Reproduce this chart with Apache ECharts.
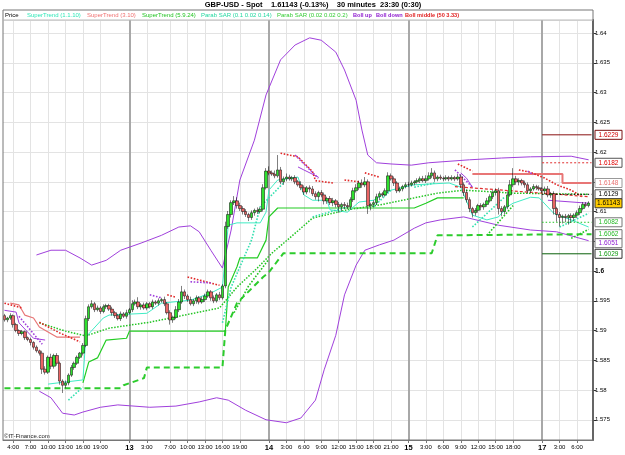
<!DOCTYPE html>
<html>
<head>
<meta charset="utf-8">
<title>GBP-USD 30 minutes</title>
<script src="https://cdn.jsdelivr.net/npm/echarts@6/dist/echarts.min.js"></script>
<style>html,body{margin:0;padding:0;background:#fff;}</style>
</head>
<body>
<div id="main" style="width:625px;height:455px;"></div>
<script type="text/javascript">
// sessions: day, first hour, number of 30 minute slots
var sessions = [['12', 2.5, 43], ['13', 0, 48], ['14', 0, 48], ['15', 0, 44], ['16', 23, 2], ['17', 0, 18]];

var firstOpen = 1.5925;
var closes = [
  // 12
  1.5918,1.5921,1.5925,1.5910,1.5900,1.5895,1.5898,1.5888,1.5885,1.5880,
  1.5872,1.5866,1.5862,1.5835,1.5830,1.5855,1.5840,1.5858,1.5845,1.5815,
  1.5808,1.5812,1.5825,1.5838,1.5845,1.5855,1.5862,1.5875,1.5920,1.5940,
  1.5945,1.5935,1.5938,1.5932,1.5940,1.5942,1.5936,1.5930,1.5925,1.5920,
  1.5928,1.5924,1.5930,
  // 13
  1.5935,1.5945,1.5948,1.5940,1.5943,1.5938,1.5945,1.5940,1.5948,1.5946,
  1.5950,1.5952,1.5945,1.5930,1.5918,1.5922,1.5935,1.5948,1.5965,1.5958,
  1.5952,1.5945,1.5950,1.5955,1.5948,1.5952,1.5958,1.5965,1.5955,1.5950,
  1.5960,1.5955,1.5975,1.6075,1.6095,1.6115,1.6118,1.6110,1.6105,1.6100,
  1.6095,1.6090,1.6098,1.6102,1.6100,1.6104,1.6140,1.6168,
  // 14
  1.6165,1.6163,1.6160,1.6170,1.6150,1.6155,1.6158,1.6155,1.6157,1.6150,
  1.6145,1.6140,1.6133,1.6140,1.6138,1.6130,1.6125,1.6132,1.6128,1.6118,
  1.6122,1.6115,1.6118,1.6112,1.6108,1.6112,1.6110,1.6108,1.6120,1.6135,
  1.6140,1.6148,1.6145,1.6150,1.6110,1.6112,1.6115,1.6125,1.6130,1.6128,
  1.6135,1.6160,1.6155,1.6148,1.6135,1.6138,1.6142,1.6145,
  // 15
  1.6145,1.6148,1.6150,1.6152,1.6155,1.6152,1.6155,1.6160,1.6165,1.6155,
  1.6158,1.6156,1.6155,1.6157,1.6155,1.6157,1.6155,1.6158,1.6145,1.6132,
  1.6120,1.6105,1.6098,1.6102,1.6110,1.6108,1.6112,1.6118,1.6125,1.6132,
  1.6135,1.6105,1.6100,1.6108,1.6128,1.6145,1.6155,1.6150,1.6152,1.6148,
  1.6145,1.6135,1.6138,1.6142,
  // 16
  1.6140,1.6138,
  // 17
  1.6135,1.6138,1.6128,1.6130,1.6105,1.6095,1.6090,1.6092,1.6090,1.6093,
  1.6090,1.6094,1.6098,1.6105,1.6112,1.6110,1.61143
];
// wick length beyond the body, in pips
var wickHi = [
  3,2,4,2,3,2,3,2,2,3, 2,3,2,4,5,3,6,3,4,3, 3,4,3,4,3,3,2,4,5,4, 6,3,4,3,4,3,3,4,3,3,
  4,3,5,3,6,4,8,3,4,3, 3,4,3,4,3,5,3,4,3,6, 5,10,4,3,5,3,4,3,5,4, 4,3,4,3,5,3,8,6,4,8,
  6,5,4,4,3,4,3,5,3,6, 5,8,4,6,25,5,4,6,4,3, 4,3,6,4,3,4,5,4,3,4, 4,3,4,5,3,4,3,4,5,4,
  5,6,4,6,8,4,3,4,5,4, 3,4,6,4,4,3,4,3,4,5, 4,3,4,4,5,6,6,8,4,3, 4,3,4,3,4,3,5,4,4,5,
  4,3,4,3,4,3,5,4,4,4, 5,4,3,6,8,18,5,4,3,4, 4,3,4,3,4,3,4,5,3,4, 3,4,3,4,3,4,3,4,5,4,
  4,3
];
var wickLo = [
  3,4,3,5,3,4,3,4,3,5, 4,3,4,8,4,3,5,4,4,6, 13,5,4,3,4,3,3,4,3,4, 3,4,3,4,3,4,3,5,4,3,
  4,3,4,3,4,3,4,5,3,4, 3,4,3,4,3,4,3,8,5,3, 4,3,5,4,3,4,5,4,3,4, 3,5,4,3,4,3,4,4,5,4,
  5,4,5,4,6,4,5,4,3,4, 3,4,3,4,3,4,5,4,3,4, 4,3,4,5,4,6,4,5,8,4, 6,5,4,6,5,10,8,6,4,5,
  4,3,4,5,4,14,8,5,4,6, 4,3,4,3,5,4,3,4,3,4, 3,4,3,4,3,4,3,4,5,4, 3,4,3,4,3,4,3,5,6,5,
  6,8,5,4,6,5,4,3,4,5, 10,8,5,4,3,4,5,6,4,5, 5,4,3,4,3,4,5,4,5,10, 12,15,10,8,12,9,6,5,4,3,
  3,3
];

// indicators, as [bar index, price]
var bollUp = [[11,1.6027],[16,1.6035],[21,1.6035],[26,1.6022],[30,1.6010],[35,1.6018],[40,1.6035],[47,1.6047],[54,1.6060],[60,1.6074],[64,1.6076],[67,1.6066],[71,1.6035],[75,1.6005],[78,1.6069],[81,1.6153],[86,1.6220],[90,1.6296],[95,1.6355],[100,1.6380],[105,1.6392],[109,1.6388],[114,1.6368],[117,1.6338],[121,1.6287],[123,1.6237],[125,1.6195],[128,1.6182],[133,1.6180],[140,1.6178],[146,1.6182],[160,1.6187],[171,1.6190],[181,1.6192],[195,1.6193],[201,1.6187]];
var bollDown = [[12,1.5798],[16,1.5787],[20,1.5761],[24,1.5758],[27,1.5763],[33,1.5771],[39,1.5775],[50,1.5771],[59,1.5773],[67,1.5780],[73,1.5787],[77,1.5783],[83,1.5766],[90,1.5750],[97,1.5745],[102,1.5753],[107,1.5783],[110,1.5834],[114,1.5892],[117,1.5960],[121,1.6010],[124,1.6035],[129,1.6044],[134,1.6052],[141,1.6072],[145,1.6081],[150,1.6086],[158,1.6091],[170,1.6077],[181,1.6069],[190,1.6066],[201,1.6051]];
var bollMid = [[12,1.5913],[21,1.5899],[28,1.5891],[36,1.5904],[50,1.5914],[74,1.5938],[80,1.5973],[87,1.6005],[92,1.6030],[98,1.6055],[106,1.6089],[118,1.6103],[129,1.6111],[141,1.6123],[149,1.6131],[158,1.6136],[175,1.6131],[201,1.6129]];
var stFast = [[15,1.5810],[27,1.5817],[28,1.5889],[34,1.5921],[36,1.5926],[49,1.5929],[54,1.5946],[64,1.5951],[71,1.5963],[75,1.5973],[76,1.6024],[77,1.6077],[80,1.6081],[88,1.6081],[90,1.6099],[91,1.6136],[94,1.6153],[101,1.6158],[103,1.6128],[106,1.6119],[111,1.6119],[112,1.6103],[118,1.6099],[122,1.6116],[127,1.6119],[133,1.6136],[141,1.6145],[153,1.6148],[157,1.6141],[161,1.6094],[166,1.6086],[170,1.6091],[173,1.6108],[175,1.6114],[181,1.6124],[184,1.6123],[189,1.6097],[195,1.6086],[201,1.6074]];
var stFastDown = [
  [[0,1.5934],[4,1.5931],[5,1.5913],[10,1.5887],[14,1.5884]],
  [[101,1.6175],[103,1.6170],[108,1.6158]],
  [[157,1.6165],[159,1.6156],[161,1.6141]],
  [[187,1.6119],[201,1.6114]]
];
var stRed = [
  [[2,1.5946],[5,1.5943],[7,1.5926],[10,1.5921],[12,1.5906],[18,1.5889],[26,1.5889]],
  [[161,1.6163],[192,1.6163],[192,1.6148],[202,1.6148]]
];
var stGreen = [[27,1.5812],[29,1.5847],[32,1.5854],[35,1.5884],[42,1.5887],[43,1.5899],[76,1.5899],[77,1.5973],[80,1.6007],[81,1.6022],[87,1.6022],[90,1.6052],[91,1.6091],[94,1.6106],[141,1.6106],[145,1.6114],[149,1.6123],[158,1.6123]];
var trendDashed = [[0,1.5803],[40,1.5803],[41,1.5808],[48,1.5820],[49,1.5838],[75,1.5838],[76,1.5901],[80,1.5946],[81,1.5951],[89,1.5990],[91,1.5998],[96,1.6030],[147,1.6030],[149,1.6060],[202,1.6062]];
var sarRed = [
  [[0,1.5946],[6,1.5938]],
  [[12,1.5914],[19,1.5896],[26,1.5881]],
  [[56,1.5960],[59,1.5956]],
  [[63,1.5990],[74,1.5976]],
  [[95,1.6198],[101,1.6192],[106,1.6167],[107,1.6152],[113,1.6148]],
  [[117,1.6153],[122,1.6150]],
  [[124,1.6165],[129,1.6158]],
  [[156,1.6180],[161,1.6168]],
  [[177,1.6170],[181,1.6166],[186,1.6156],[190,1.6145],[195,1.6136],[199,1.6124]]
];
var redDashed = [[155,1.6142],[201,1.6125]];
var sarPurple = [
  [[5,1.5924],[13,1.5877]],
  [[50,1.5960],[54,1.5955]],
  [[64,1.5982],[71,1.5980]],
  [[100,1.6195],[108,1.6156]],
  [[155,1.6170],[161,1.6141]],
  [[180,1.6168],[182,1.6162]]
];
var sarAqua = [
  [[22,1.5783],[27,1.5805]],
  [[75,1.5913],[78,1.5973],[85,1.6052],[88,1.6108],[96,1.6148]],
  [[106,1.6091],[118,1.6108]],
  [[127,1.6108],[133,1.6136]],
  [[141,1.6141],[148,1.6148]],
  [[161,1.6074],[172,1.6124]],
  [[191,1.6074],[201,1.6097]]
];
var sarGreen = [
  [[79,1.5930],[84,1.5975],[91,1.6020]],
  [[166,1.6060],[175,1.6110]],
  [[195,1.6055],[201,1.6070]]
];
// day 17 levels
var lvlDarkRed = [[185,1.6229],[202,1.6229]];
var lvlRedDash = [[185,1.6182],[202,1.6182]];
var lvlBlack = [[185,1.6129],[202,1.6129]];
var lvlGreenDot = [[185,1.6082],[202,1.6082]];
var lvlDarkGreen = [[185,1.6029],[202,1.6029]];

var lastValues = [1.6229, 1.6182, 1.6148, 1.6129, 1.61143, 1.6082, 1.6062, 1.6051, 1.6029];

var tickLabels = [
  ['12 4:00','4:00'],['12 7:00','7:00'],['12 10:00','10:00'],['12 13:00','13:00'],['12 16:00','16:00'],['12 19:00','19:00'],
  ['13 0:00','13'],['13 3:00','3:00'],['13 7:00','7:00'],['13 10:00','10:00'],['13 13:00','13:00'],['13 16:00','16:00'],['13 19:00','19:00'],
  ['14 0:00','14'],['14 3:00','3:00'],['14 6:00','6:00'],['14 9:00','9:00'],['14 12:00','12:00'],['14 15:00','15:00'],['14 18:00','18:00'],['14 21:00','21:00'],
  ['15 0:00','15'],['15 3:00','3:00'],['15 6:00','6:00'],['15 9:00','9:00'],['15 12:00','12:00'],['15 15:00','15:00'],['15 18:00','18:00'],
  ['17 0:00','17'],['17 3:00','3:00'],['17 6:00','6:00']
];

var yMin = 1.5716, yMax = 1.6422;

// build categories
var categories = [];
sessions.forEach(function (s) {
  for (var k = 0; k < s[2]; k++) {
    var t = s[1] + k * 0.5;
    categories.push(s[0] + ' ' + Math.floor(t) + ':' + (t % 1 ? '30' : '00'));
  }
});
var labelMap = {};
tickLabels.forEach(function (t) { labelMap[t[0]] = t[1]; });
function isDay(txt) { return txt.indexOf(':') < 0; }

var candles = closes.map(function (c, i) {
  var o = i === 0 ? firstOpen : closes[i - 1];
  return [o, c, Math.min(o, c) - wickLo[i] / 10000, Math.max(o, c) + wickHi[i] / 10000];
});

var FONT = 'Liberation Sans';
var series = [];
function addLine(data, color, width, type, z) {
  series.push({
    type: 'line', data: data, symbol: 'none', silent: true, animation: false, z: z || 3,
    lineStyle: {color: color, width: width, type: type || 'solid'}
  });
}

// vertical grid lines on the labelled times
var vLines = tickLabels.map(function (t) {
  var day = isDay(t[1]);
  return {xAxis: t[0], lineStyle: {color: day ? '#a8a8a8' : '#e3e3e3', width: day ? 2 : 1, type: 'solid'}};
});
series.push({
  type: 'line', data: [], silent: true, z: 1,
  markLine: {symbol: 'none', silent: true, animation: false, label: {show: false}, z: 1, data: vLines}
});

addLine(bollUp, '#a040dc', 1);
addLine(bollDown, '#a040dc', 1);
addLine(bollMid, '#22c422', 1.5, [1.5, 1.5]);
addLine(trendDashed, '#2ccc2c', 2, [6, 4]);
addLine(stGreen, '#22cc22', 1.2);
addLine(stFast, '#40ecc4', 1);
stFastDown.forEach(function (s) { addLine(s, '#a040dc', 1); });
stRed.forEach(function (s, i) { addLine(s, '#e87676', i ? 2 : 1.2); });
sarRed.forEach(function (s) { addLine(s, '#e02828', 1.6, [1.6, 1.6]); });
sarPurple.forEach(function (s) { addLine(s, '#a040dc', 1.6, [1.6, 1.6]); });
sarAqua.forEach(function (s) { addLine(s, '#36e0b0', 1.6, [1.6, 1.6]); });
sarGreen.forEach(function (s) { addLine(s, '#22c422', 1.6, [1.6, 1.6]); });
addLine(redDashed, '#e03030', 1.2, [3, 2]);
addLine(lvlDarkRed, '#8a1010', 1);
addLine(lvlRedDash, '#e03030', 1, [2, 2]);
addLine(lvlBlack, '#000', 1, [1.5, 2]);
addLine(lvlGreenDot, '#22c422', 1, [1.5, 2]);
addLine(lvlDarkGreen, '#0a600a', 1);

series.push({
  type: 'candlestick', data: candles, z: 6, animation: false, silent: true, barWidth: 3,
  itemStyle: {color: '#2ee02e', color0: '#ea6464', borderColor: '#000', borderColor0: '#000', borderWidth: 0.5}
});

var chart = echarts.init(document.getElementById('main'));
chart.setOption({
  animation: false,
  backgroundColor: '#fff',
  grid: {left: 3, right: 32, top: 20, bottom: 15, containLabel: false, outerBoundsMode: 'none'},
  xAxis: {
    type: 'category', data: categories, boundaryGap: true,
    axisLine: {show: true, lineStyle: {color: '#777', width: 1}},
    axisTick: {show: true, alignWithLabel: true, length: 3, interval: function (i, v) { return labelMap[v] !== undefined; }, lineStyle: {color: '#777'}},
    axisLabel: {
      interval: function (i, v) { return labelMap[v] !== undefined; },
      formatter: function (v) { var t = labelMap[v]; return isDay(t) ? '{b|' + t + '}' : t; },
      fontSize: 6, fontFamily: FONT, color: '#000', margin: 4,
      rich: {b: {fontSize: 7.5, fontWeight: 'bold', fontFamily: FONT, color: '#000'}}
    },
    splitLine: {show: false}
  },
  yAxis: {
    type: 'value', position: 'right', min: yMin, max: yMax, splitNumber: 14,
    axisLine: {show: true, lineStyle: {color: '#555', width: 2}},
    axisTick: {show: true, length: 3, lineStyle: {color: '#333'}},
    axisLabel: {
      fontSize: 6, fontFamily: FONT, color: '#000', margin: 2,
      showMinLabel: false, showMaxLabel: false,
      formatter: function (v) {
        var k = Math.round(v * 200);
        if (Math.abs(v * 200 - k) > 1e-6) return '';
        var s = String(Number((k / 200).toFixed(3)));
        if (s === '1.615' || s === '1.605') return '';
        return s === '1.6' ? '{b|1.6}' : s;
      },
      rich: {b: {fontSize: 6.5, fontWeight: 'bold', fontFamily: FONT, color: '#000'}}
    },
    splitLine: {show: true, lineStyle: {color: '#e3e3e3'}}
  },
  series: series
});

// frame, title, legend, copyright and the last value boxes
var legendItems = [
  ['Price', '#000', 5, false], ['SuperTrend (1.1.10)', '#2ee8b8', 27, false], ['SuperTrend (3.10)', '#f07070', 87, false],
  ['SuperTrend (5.9.24)', '#22c422', 142, false], ['Parab SAR (0.1 0.02 0.14)', '#22d8a0', 201, false],
  ['Parab SAR (0.02 0.02 0.2)', '#33cc33', 277, false], ['Boll up', '#9020d0', 353, true], ['Boll down', '#9020d0', 376, true],
  ['Boll middle (50 3.33)', '#e02020', 405, true]
];
var boxStyles = [
  {fill: '#fff', stroke: '#7a1010', color: '#d00000'},
  {fill: '#fff', stroke: '#555', color: '#e00000'},
  {fill: '#fff', stroke: '#999', color: '#e87070'},
  {fill: '#fff', stroke: '#555', color: '#000'},
  {fill: '#ffcc00', stroke: '#333', color: '#000'},
  {fill: '#fff', stroke: '#777', color: '#22b822'},
  {fill: '#fff', stroke: '#777', color: '#22b822'},
  {fill: '#fff', stroke: '#777', color: '#9020d0'},
  {fill: '#fff', stroke: '#333', color: '#119911'}
];
var els = [
  {type: 'rect', shape: {x: 3, y: 10, width: 590, height: 430}, style: {fill: 'none', stroke: '#777', lineWidth: 1}, silent: true, z: 50},
  {type: 'line', shape: {x1: 3, y1: 20, x2: 593, y2: 20}, style: {stroke: '#bbb', lineWidth: 1}, silent: true, z: 50},
  {type: 'text', x: 313, y: 5, style: {text: 'GBP-USD - Spot    1.61143 (-0.13%)    30 minutes  23:30 (0:30)', fontSize: 7.5, fontWeight: 'bold', fontFamily: FONT, fill: '#000', align: 'center', verticalAlign: 'middle'}, z: 50},
  {type: 'text', x: 4, y: 436, style: {text: '\u00a9IT-Finance.com', fontSize: 6, fontFamily: FONT, fill: '#222', verticalAlign: 'middle'}, z: 50}
];
legendItems.forEach(function (l) {
  els.push({type: 'text', x: l[2], y: 15, z: 50, style: {text: l[0], fontSize: l[3] ? 5.6 : 6, fontFamily: FONT, fill: l[1], verticalAlign: 'middle', fontWeight: l[3] ? 'bold' : 'normal'}});
});
var prevY = -100;
lastValues.forEach(function (v, i) {
  var y = chart.convertToPixel({yAxisIndex: 0}, v);
  if (y < prevY + 9) y = prevY + 9;
  prevY = y;
  var st = boxStyles[i];
  els.push({type: 'rect', shape: {x: 595, y: y - 4.5, width: 27, height: 9}, style: {fill: st.fill, stroke: st.stroke, lineWidth: 1}, z: 60});
  els.push({type: 'text', x: 608.5, y: y, z: 61, style: {text: String(v), fontSize: 6.5, fontFamily: FONT, fill: st.color, align: 'center', verticalAlign: 'middle'}});
});
chart.setOption({graphic: {elements: els}});
</script>
</body>
</html>
